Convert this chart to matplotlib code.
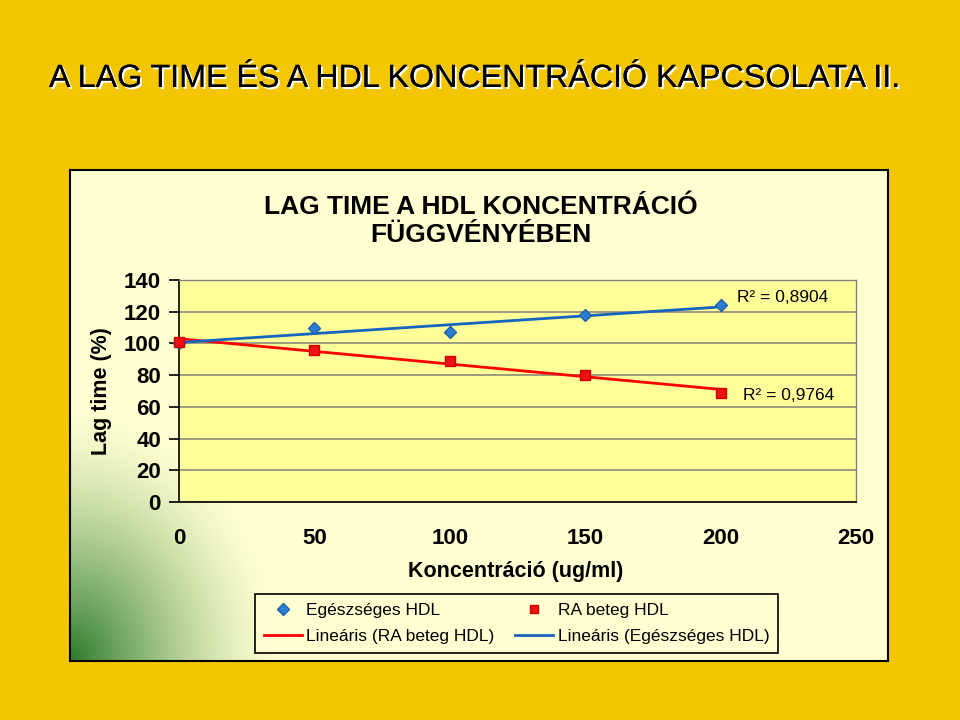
import numpy as np
import matplotlib
matplotlib.use("Agg")
import matplotlib.pyplot as plt
import matplotlib.patheffects as pe
from matplotlib.lines import Line2D

plt.rcParams['font.family'] = ['Liberation Sans', 'DejaVu Sans']

# data
konc = [0, 50, 100, 150, 200]
egeszseges = [100, 110, 107, 118, 124]
ra_beteg = [101, 96, 89, 80, 69]
r2_egeszseges = "R² = 0,8904"
r2_ra = "R² = 0,9764"
y_ticks = [0, 20, 40, 60, 80, 100, 120, 140]
x_ticks = [0, 50, 100, 150, 200, 250]

fig = plt.figure(figsize=(9.6, 7.2), dpi=100)
fig.patch.set_facecolor("#F4C600")

# main slide title
fig.text(49/960, 1-87/720, "A LAG TIME ÉS A HDL KONCENTRÁCIÓ KAPCSOLATA II.",
         fontsize=23.2, color="black", va="baseline", ha="left",
         path_effects=[pe.withSimplePatchShadow(offset=(1.5, -1.5), shadow_rgbFace="white", alpha=1.0),
                       pe.Normal()])

# chart area box with green gradient in the lower left corner
box = [70/960, 1-661/720, 818/960, 491/720]
bg = fig.add_axes(box, zorder=0)
w, h = 818, 491
xx, yy = np.meshgrid(np.arange(w), np.arange(h)[::-1])
d = np.sqrt((xx/210.0)**2 + (yy/250.0)**2)
a = np.clip(1 - d, 0, 1)**1.4
pale = np.array([1.0, 1.0, 0.82])
green = np.array([0.17, 0.48, 0.17])
img = pale[None, None, :] * (1 - a[..., None]) + green[None, None, :] * a[..., None]
bg.imshow(img, extent=[0, w, 0, h], aspect="auto", origin="upper")
bg.set_xlim(0, w)
bg.set_ylim(0, h)
bg.set_xticks([])
bg.set_yticks([])
for s in bg.spines.values():
    s.set_linewidth(1.5)
    s.set_color("black")

# plot area
ax = fig.add_axes([179/960, 1-502/720, 677/960, 222/720], zorder=2)
ax.set_facecolor("#FFFF99")
ax.set_xlim(0, 250)
ax.set_ylim(0, 140)
ax.set_yticks(y_ticks)
ax.set_xticks(x_ticks)
ax.grid(axis="y", color="#8C8C7A", linewidth=1.2)
ax.set_axisbelow(True)
for side in ["top", "right"]:
    ax.spines[side].set_color("#808080")
    ax.spines[side].set_linewidth(1.0)
for side in ["left", "bottom"]:
    ax.spines[side].set_color("black")
    ax.spines[side].set_linewidth(1.2)
ax.tick_params(axis="y", direction="out", length=7, width=1.2, pad=6, labelsize=16)
ax.tick_params(axis="x", direction="out", length=0, width=1.2, pad=19, labelsize=16)
for lab in ax.get_xticklabels() + ax.get_yticklabels():
    lab.set_fontweight("bold")

# trend lines (linear fits)
xs = np.array(konc, dtype=float)
pr = np.polyfit(xs, ra_beteg, 1)
pe_ = np.polyfit(xs, egeszseges, 1)
xl = np.array([0, 200])
ax.plot(xl, np.polyval(pr, xl), color="#FF0000", linewidth=2.0, zorder=3)
ax.plot(xl, np.polyval(pe_, xl), color="#1565C0", linewidth=2.0, zorder=3)

ax.plot(konc, egeszseges, linestyle="none", marker="D", markersize=6.5,
        markerfacecolor="#2A7FD4", markeredgecolor="#1F5FA8", zorder=4, clip_on=False)
ax.plot(konc, ra_beteg, linestyle="none", marker="s", markersize=6.5,
        markerfacecolor="#EE1111", markeredgecolor="#CC0000", zorder=4, clip_on=False)

ax.text(737/960, 1-298/720, r2_egeszseges, transform=fig.transFigure, fontsize=12.5,
        va="center", ha="left")
ax.text(743/960, 1-395/720, r2_ra, transform=fig.transFigure, fontsize=12.5,
        va="center", ha="left")

# chart title and axis labels
fig.text(481/960, 1-221/720, "LAG TIME A HDL KONCENTRÁCIÓ\nFÜGGVÉNYÉBEN",
         fontsize=19, fontweight="bold", ha="center", va="center", linespacing=1.2, zorder=3)
fig.text(101/960, 1-391/720, "Lag time (%)", rotation=90, fontsize=15.5,
         fontweight="bold", ha="center", va="center", zorder=3)
fig.text(516/960, 1-571/720, "Koncentráció (ug/ml)", fontsize=15.5,
         fontweight="bold", ha="center", va="center", zorder=3)

# legend
handles = [
    Line2D([], [], linestyle="none", marker="D", markersize=6,
           markerfacecolor="#2A7FD4", markeredgecolor="#1F5FA8"),
    Line2D([], [], color="#FF0000", linewidth=2.0),
    Line2D([], [], linestyle="none", marker="s", markersize=6,
           markerfacecolor="#EE1111", markeredgecolor="#CC0000"),
    Line2D([], [], color="#1565C0", linewidth=2.0),
]
labels = ["Egészséges HDL", "Lineáris (RA beteg HDL)",
          "RA beteg HDL", "Lineáris (Egészséges HDL)"]
leg = fig.legend(handles, labels, ncol=2, loc="upper left",
                 bbox_to_anchor=(255/960, 1-594/720), fontsize=12.5,
                 frameon=True, fancybox=False, edgecolor="black",
                 facecolor="#FFFFD2", framealpha=1.0, borderpad=0.5,
                 handlelength=2.2, handletextpad=0.25, columnspacing=1.2,
                 labelspacing=0.65, borderaxespad=0)
leg.get_frame().set_linewidth(1.2)
leg.set_zorder(5)

fig.savefig("out.png", dpi=100, facecolor=fig.get_facecolor())
